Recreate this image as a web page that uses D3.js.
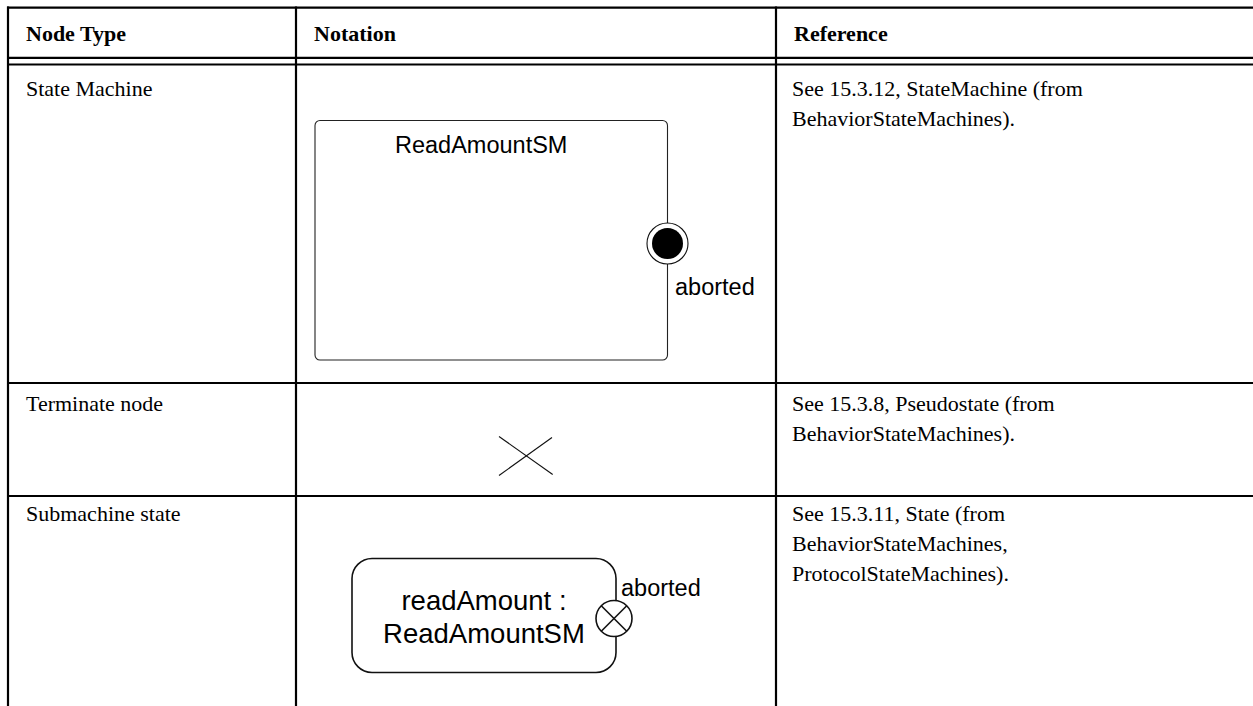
<!DOCTYPE html>
<html><head><meta charset="utf-8">
<script src="https://cdn.jsdelivr.net/npm/d3@7/dist/d3.min.js"></script>
<style>html,body{margin:0;padding:0;background:#fff;}svg{display:block;}</style>
</head><body>
<svg id="c" width="1253" height="706"></svg>
<script>
// ---- data ----
const headers = ["Node Type", "Notation", "Reference"];
const nodeTypes = ["State Machine", "Terminate node", "Submachine state"];
const references = [
  ["See 15.3.12, StateMachine (from", "BehaviorStateMachines)."],
  ["See 15.3.8, Pseudostate (from", "BehaviorStateMachines)."],
  ["See 15.3.11, State (from", "BehaviorStateMachines,", "ProtocolStateMachines)."]
];
const smName = "ReadAmountSM";
const exitLabel = "aborted";
const subLines = ["readAmount :", "ReadAmountSM"];

// ---- layout ----
const W = 1253, H = 706;
const svg = d3.select("#c");
const colEdges = [8, 296, 776];          // left edge of each column
const rowEdges = [64.5, 383, 496];        // top of each body row
const x = d3.scaleOrdinal().domain(headers).range(colEdges);
const yRow = d3.scaleOrdinal().domain(nodeTypes).range(rowEdges);
const serif = "'Liberation Serif','Times New Roman',serif";
const sans = "'Liberation Sans',Arial,sans-serif";

// table rules
const g = svg.append("g").attr("stroke", "#000").attr("stroke-width", 2.2);
[7.7, 57.8, 64.5].concat(rowEdges.slice(1)).forEach(y =>
  g.append("line").attr("x1", 7).attr("x2", W).attr("y1", y).attr("y2", y));
colEdges.forEach(cx =>
  g.append("line").attr("x1", cx).attr("x2", cx).attr("y1", 6.6).attr("y2", H));

// header
svg.selectAll("text.h").data(headers).join("text").attr("class", "h")
  .attr("x", d => x(d) + 18).attr("y", 41)
  .attr("font-family", serif).attr("font-weight", "bold").attr("font-size", 22)
  .text(d => d);

// node type column
const baseOff = [31, 28, 25];
svg.selectAll("text.n").data(nodeTypes).join("text").attr("class", "n")
  .attr("x", x(headers[0]) + 18).attr("y", (d, i) => yRow(d) + baseOff[i])
  .attr("font-family", serif).attr("font-size", 22).text(d => d);

// references
references.forEach((lines, i) => {
  svg.append("g").selectAll("text").data(lines).join("text")
    .attr("x", x(headers[2]) + 16)
    .attr("y", (d, j) => yRow(nodeTypes[i]) + baseOff[i] + j * 30)
    .attr("font-family", serif).attr("font-size", 22).text(d => d);
});

// ---- notation: state machine ----
const n1 = svg.append("g");
n1.append("rect").attr("x", 315).attr("y", 120.5).attr("width", 352.5).attr("height", 239.5)
  .attr("rx", 5).attr("fill", "none").attr("stroke", "#222").attr("stroke-width", 1.1);
n1.append("text").attr("x", 395).attr("y", 153).attr("font-family", sans).attr("font-size", 23.5)
  .text(smName);
n1.append("circle").attr("cx", 667.5).attr("cy", 243.5).attr("r", 20.5)
  .attr("fill", "#fff").attr("stroke", "#111").attr("stroke-width", 1.1);
n1.append("circle").attr("cx", 667.5).attr("cy", 243.5).attr("r", 15.5).attr("fill", "#000");
n1.append("text").attr("x", 675).attr("y", 295).attr("font-family", sans).attr("font-size", 23.5)
  .text(exitLabel);

// ---- notation: terminate ----
const n2 = svg.append("g").attr("stroke", "#111").attr("stroke-width", 1.1);
n2.append("line").attr("x1", 499).attr("y1", 436.5).attr("x2", 552.7).attr("y2", 474.5);
n2.append("line").attr("x1", 499).attr("y1", 475.5).attr("x2", 552).attr("y2", 437.5);

// ---- notation: submachine state ----
const n3 = svg.append("g");
n3.append("rect").attr("x", 352).attr("y", 558.5).attr("width", 264).attr("height", 114)
  .attr("rx", 20).attr("fill", "none").attr("stroke", "#111").attr("stroke-width", 1.6);
n3.selectAll("text").data(subLines).join("text")
  .attr("x", 484).attr("y", (d, i) => 610 + i * 33).attr("text-anchor", "middle")
  .attr("font-family", sans).attr("font-size", 27.5).text(d => d);
const cx3 = 614, cy3 = 618.5, r3 = 18;
n3.append("circle").attr("cx", cx3).attr("cy", cy3).attr("r", r3)
  .attr("fill", "#fff").attr("stroke", "#111").attr("stroke-width", 1.6);
const k = r3 / Math.SQRT2;
n3.append("line").attr("x1", cx3 - k).attr("y1", cy3 - k).attr("x2", cx3 + k).attr("y2", cy3 + k)
  .attr("stroke", "#111").attr("stroke-width", 1.6);
n3.append("line").attr("x1", cx3 - k).attr("y1", cy3 + k).attr("x2", cx3 + k).attr("y2", cy3 - k)
  .attr("stroke", "#111").attr("stroke-width", 1.6);
n3.append("text").attr("x", 621).attr("y", 596).attr("font-family", sans).attr("font-size", 23.5)
  .text(exitLabel);
</script>
</body></html>
